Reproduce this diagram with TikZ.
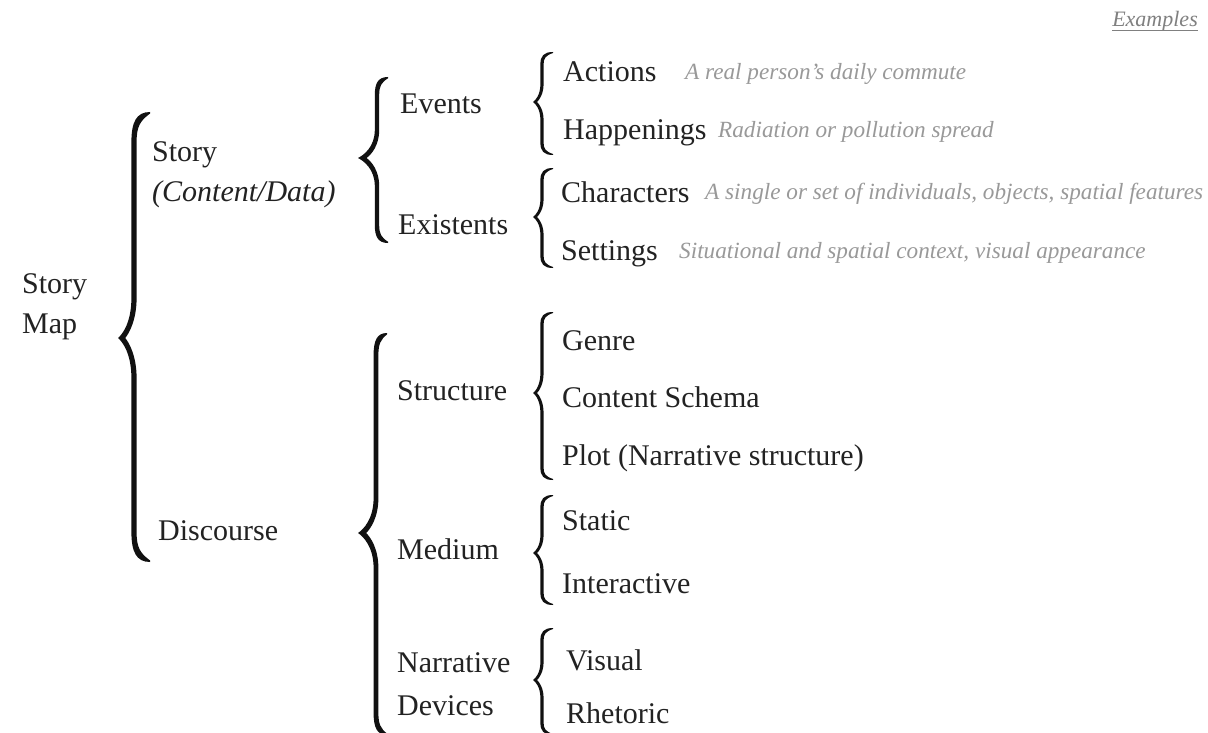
\documentclass[tikz,border=0pt]{standalone}
\usepackage{fontspec}
\setmainfont{Liberation Serif}
% Curly brace as a filled shape.
% #1 tip x, #2 stem x, #3 hook x, #4 top y, #5 tip y, #6 bottom y,
% #7 half stroke width, #8 hook length, #9 tip curve length
\newcommand\curly[9]{%
  \fill[bracecol]
    (#3,#4)
    .. controls ({#2-#7+0.3*(#3-#2)},{#4}) and ({#2-#7},{#4+0.35*#8}) .. ({#2-#7},{#4+#8})
    -- ({#2-#7},{#5-#9})
    .. controls ({#2-#7},{#5-0.4*#9}) and ({#1+0.3*(#2-#1)},{#5-0.1*#9}) .. (#1,#5)
    .. controls ({#1+0.3*(#2-#1)},{#5+0.1*#9}) and ({#2-#7},{#5+0.4*#9}) .. ({#2-#7},{#5+#9})
    -- ({#2-#7},{#6-#8})
    .. controls ({#2-#7},{#6-0.35*#8}) and ({#2-#7+0.3*(#3-#2)},{#6}) .. (#3,#6)
    -- (#3,{#6-0.6*#7})
    .. controls ({#2+#7+0.2*(#3-#2)},{#6-0.3*#8}) and ({#2+#7},{#6-0.5*#8}) .. ({#2+#7},{#6-#8})
    -- ({#2+#7},{#5+#9})
    .. controls ({#2+#7},{#5+0.45*#9}) and ({#1+0.7*(#2-#1)},{#5+0.12*#9}) .. ({#1+0.45*(#2-#1)},{#5})
    .. controls ({#1+0.7*(#2-#1)},{#5-0.12*#9}) and ({#2+#7},{#5-0.45*#9}) .. ({#2+#7},{#5-#9})
    -- ({#2+#7},{#4+#8})
    .. controls ({#2+#7},{#4+0.5*#8}) and ({#2+#7+0.2*(#3-#2)},{#4+0.3*#8}) .. (#3,{#4+0.6*#7})
    -- cycle;}
\definecolor{bracecol}{HTML}{111111}
\definecolor{maintext}{HTML}{222222}
\definecolor{extext}{HTML}{999999}
\definecolor{headtext}{HTML}{808080}
\begin{document}
\begin{tikzpicture}[x=1pt,y=-1pt,
  lbl/.style={anchor=base west, inner sep=0pt, align=left, text=maintext,
              font=\fontsize{30}{40}\selectfont},
  ex/.style={anchor=base west, inner sep=0pt, text=extext,
             font=\fontsize{23.2}{27}\selectfont\itshape}]
\useasboundingbox[fill=white] (0,0) rectangle (1208,733);

% column header
\node[anchor=base east, inner sep=0pt, text=headtext,
      font=\fontsize{22}{26}\selectfont\itshape] (hdr) at (1198,27) {Examples};
\draw[headtext, line width=0.8pt] ([yshift=-3pt]hdr.base west) -- ([yshift=-3pt]hdr.base east);

% root (base of a multi-line node is its last line)
\node[lbl] (root) at (22,333) {Story\\Map};
\curly{118}{134}{150}{112}{338}{562}{2.6}{30}{40}

% level 1
\node[lbl] (story) at (152,201) {Story\\\textit{(Content/Data)}};
\node[lbl] (disc) at (158,540) {Discourse};
\curly{358}{377}{388}{77}{158}{243}{2.2}{18}{28}
\curly{358}{376}{387}{333}{533}{735}{2.4}{22}{35}

% level 2
\node[lbl] (events) at (400,114) {Events};
\node[lbl] (exist) at (398,234) {Existents};
\node[lbl] (struct) at (397,400) {Structure};
\node[lbl] (medium) at (397,559) {Medium};
\node[lbl, font=\fontsize{30}{43}\selectfont] (devices) at (397,715) {Narrative\\Devices};

\curly{533}{542}{553}{52}{102}{155}{1.6}{12}{18}
\curly{533}{542}{553}{168}{217}{268}{1.6}{12}{18}
\curly{533}{542}{553}{312}{393}{480}{1.6}{12}{20}
\curly{533}{542}{553}{495}{553}{605}{1.6}{12}{18}
\curly{533}{542}{553}{628}{680}{735}{1.6}{12}{18}

% level 3
\node[lbl] (actions) at (563,82) {Actions};
\node[lbl] (happen) at (563,140) {Happenings};
\node[lbl] (chars) at (561,202) {Characters};
\node[lbl] (sets) at (561,260) {Settings};
\node[lbl] (genre) at (562,350) {Genre};
\node[lbl] (schema) at (562,407) {Content Schema};
\node[lbl] (plot) at (562,465) {Plot (Narrative structure)};
\node[lbl] (static) at (562,530) {Static};
\node[lbl] (inter) at (562,593) {Interactive};
\node[lbl] (visual) at (566,670) {Visual};
\node[lbl] (rhet) at (566,723) {Rhetoric};

% examples
\node[ex] (exa) at (685,80) {A real person’s daily commute};
\node[ex] (exh) at (718,138) {Radiation or pollution spread};
\node[ex] (exc) at (705,200) {A single or set of individuals, objects, spatial features};
\node[ex] (exs) at (679,258) {Situational and spatial context, visual appearance};
\end{tikzpicture}
\end{document}
